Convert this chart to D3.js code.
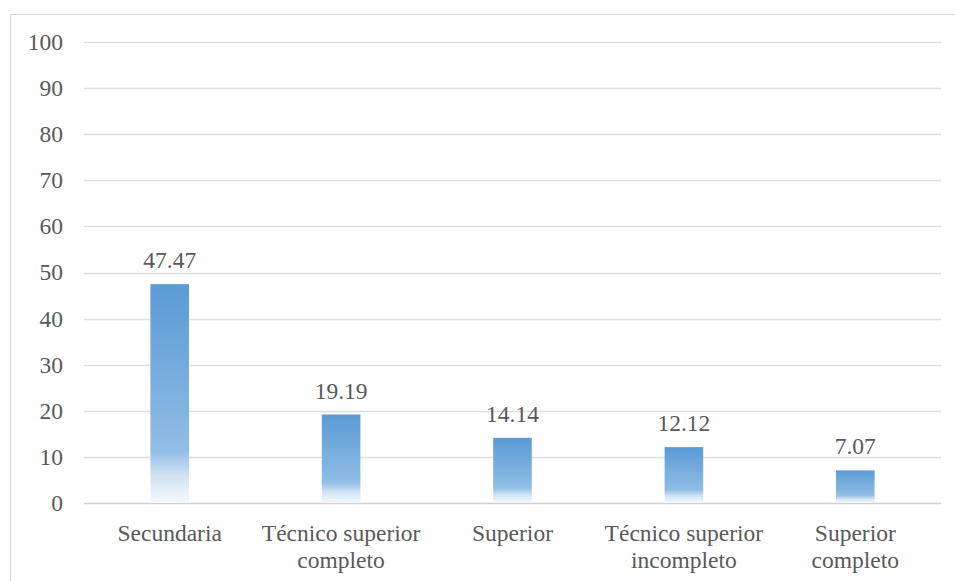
<!DOCTYPE html>
<html>
<head>
<meta charset="utf-8">
<script src="https://cdn.jsdelivr.net/npm/d3@7"></script>
</head>
<body style="margin:0;padding:0;background:#ffffff">
<svg id="chart" width="955" height="581" style="display:block"></svg>
<script>
const categories = ["Secundaria", "Técnico superior completo", "Superior", "Técnico superior incompleto", "Superior completo"];
const values = [47.47, 19.19, 14.14, 12.12, 7.07];
const valueLabels = ["47.47", "19.19", "14.14", "12.12", "7.07"];
const yTicks = [0, 10, 20, 30, 40, 50, 60, 70, 80, 90, 100];

const svg = d3.select("#chart");
const fontSize = 23.5;
const FONT = "'Liberation Serif'";
const TXT = "#595959";

svg.append("rect")
  .attr("x", 10.5).attr("y", 14.5)
  .attr("width", 1000).attr("height", 1000)
  .attr("fill", "none").attr("stroke", "#d9d9d9").attr("stroke-width", 1);

const plot = { left: 84, right: 941, top: 42, bottom: 503 };

const x = d3.scaleBand().domain(categories).range([plot.left, plot.right]).paddingInner(0.775).paddingOuter(0.3875);
const y = d3.scaleLinear().domain([0, 100]).range([plot.bottom, plot.top]);

const defs = svg.append("defs");
const grad = defs.append("linearGradient").attr("id", "barGrad")
  .attr("x1", 0).attr("y1", 0).attr("x2", 0).attr("y2", 1);
[[0, "#5a9ad5"], [0.76, "#90bde5"], [0.88, "#d3e4f4"], [1, "#f5f9fd"]].forEach(([o, c]) => {
  grad.append("stop").attr("offset", o).attr("stop-color", c);
});

svg.append("g").selectAll("line").data(yTicks).join("line")
  .attr("x1", plot.left).attr("x2", plot.right)
  .attr("y1", d => Math.round(y(d)) + 0.5).attr("y2", d => Math.round(y(d)) + 0.5)
  .attr("stroke", d => d === 0 ? "#d0d0d0" : "#dedede").attr("stroke-width", 1.3);

// y-axis tick labels (scale ticks drawn as text)
const gy = svg.append("g");
gy.selectAll("text").data(yTicks).join("text")
  .attr("x", 63).attr("y", d => y(d)).attr("dy", "0.34em")
  .attr("text-anchor", "end")
  .attr("font-size", fontSize).attr("fill", TXT)
  .style("font-family", FONT)
  .text(d3.format("d"));

const data = categories.map((c, i) => ({ c, v: values[i], label: valueLabels[i] }));
svg.append("g").selectAll("rect").data(data).join("rect")
  .attr("x", d => x(d.c)).attr("width", x.bandwidth())
  .attr("y", d => y(d.v)).attr("height", d => y(0) - y(d.v))
  .attr("fill", "url(#barGrad)");

svg.append("g").selectAll("text").data(data).join("text")
  .attr("x", d => x(d.c) + x.bandwidth() / 2)
  .attr("y", d => y(d.v) - 16)
  .attr("text-anchor", "middle")
  .attr("font-size", fontSize).attr("fill", TXT)
  .style("font-family", FONT)
  .text(d => d.label);

// x category labels with wrapping
const maxW = x.step() * 0.98;
const gx = svg.append("g");
gx.selectAll("text").data(categories).join("text")
  .attr("x", d => x(d) + x.bandwidth() / 2)
  .attr("y", plot.bottom)
  .attr("text-anchor", "middle")
  .attr("font-size", fontSize).attr("fill", TXT)
  .style("font-family", FONT)
  .each(function (d) {
    const t = d3.select(this);
    const cx = x(d) + x.bandwidth() / 2;
    const words = d.split(" ");
    const lines = [];
    let line = [];
    const tmp = t.append("tspan");
    words.forEach(w => {
      line.push(w);
      tmp.text(line.join(" "));
      if (tmp.node().getComputedTextLength() > maxW && line.length > 1) {
        line.pop();
        lines.push(line.join(" "));
        line = [w];
      }
    });
    lines.push(line.join(" "));
    tmp.remove();
    lines.forEach((l, i) => {
      t.append("tspan").attr("x", cx).attr("y", plot.bottom + 38 + i * 27).text(l);
    });
  });
</script>
</body>
</html>
